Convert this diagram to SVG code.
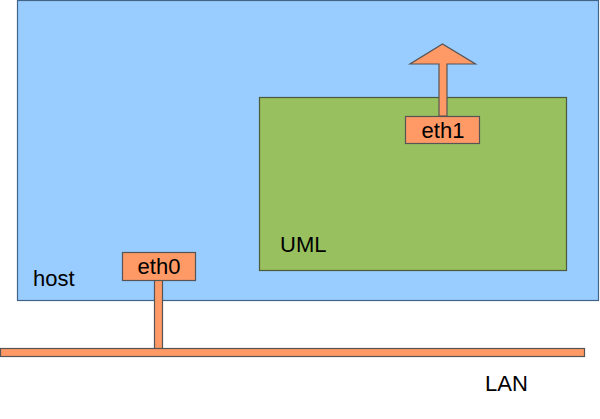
<svg xmlns="http://www.w3.org/2000/svg" width="600" height="419" viewBox="0 0 600 419">
<style>
.host{fill:#99ccff;stroke:#3f6486;stroke-width:1.2}
.uml{fill:#99c05f;stroke:#4a5a3a;stroke-width:1.2}
.or{fill:#ff9966;stroke:#555555;stroke-width:1.2}
text{font-family:"Liberation Sans",Arial,sans-serif;font-size:22px;fill:#000}
</style>
<rect width="600" height="419" fill="#ffffff"/>
<g id="host">
<rect class="host" x="17.5" y="0.5" width="581" height="300"/>
<text x="33" y="286">host</text>
</g>
<g id="uml">
<rect class="uml" x="259.5" y="97.5" width="307" height="173"/>
<text x="280" y="252">UML</text>
</g>
<g id="connectors">
<polygon class="or" points="439,116 439,64 410,64 442.5,44 475.5,64 447,64 447,116"/>
<rect class="or" x="154.5" y="280" width="8" height="69"/>
</g>
<g id="lan">
<rect class="or" x="0.5" y="348.5" width="584" height="8"/>
<text x="485" y="391">LAN</text>
</g>
<g id="eth1">
<rect class="or" x="405.5" y="116.5" width="74" height="27"/>
<text x="443" y="137.5" text-anchor="middle">eth1</text>
</g>
<g id="eth0">
<rect class="or" x="122.5" y="252.5" width="73" height="28"/>
<text x="159" y="273.5" text-anchor="middle">eth0</text>
</g>
</svg>
